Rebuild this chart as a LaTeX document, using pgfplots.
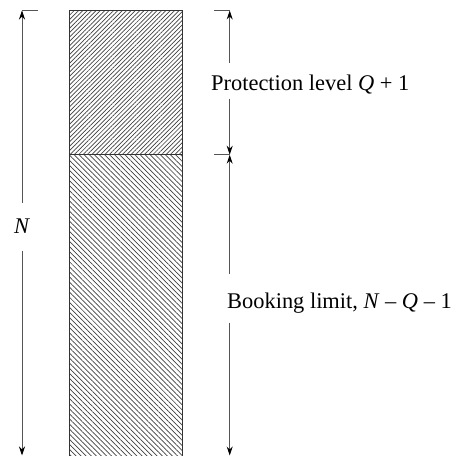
\documentclass[border=0pt]{standalone}
\usepackage{pgfplots}
\pgfplotsset{compat=1.18}
\usepackage{fontspec}
\setmainfont{Liberation Serif}
\usetikzlibrary{patterns.meta,arrows.meta}
\definecolor{arr}{HTML}{555555}
\begin{document}
\begin{tikzpicture}
\begin{axis}[
  scale only axis, width=452bp, height=456bp,
  xmin=0, xmax=452, ymin=0, ymax=456,
  axis lines=none, clip=false,
  ybar stacked, bar width=113,
]
\addplot[draw=black!80, line width=0.9pt, fill=white,
  postaction={pattern={Lines[angle=-45,distance=3.6pt,line width=0.7pt]}, pattern color=black!75}]
  coordinates {(125.5,301.3)};
\addplot[draw=black!80, line width=0.9pt, fill=white,
  postaction={pattern={Lines[angle=45,distance=3.1pt,line width=0.7pt]}, pattern color=black!75}]
  coordinates {(125.5,144.2)};
\coordinate (SW) at (axis cs:0,0);
\coordinate (NE) at (axis cs:452,456);
% left N arrow
\draw[arr, line width=1pt] (axis cs:22,445.5) -- (axis cs:38,445.5);
\draw[arr, line width=1pt, -{Stealth[length=9pt,width=6pt,black]}] (axis cs:22,253) -- (axis cs:22,445.5);
\draw[arr, line width=1pt, -{Stealth[length=9pt,width=6pt,black]}] (axis cs:22,205) -- (axis cs:22,0.5);
\node[anchor=base, inner sep=0, font=\fontsize{22.5}{26}\selectfont] at (axis cs:22,222) {\textit{N}};
% right arrows
\draw[arr, line width=1pt] (axis cs:214,445.5) -- (axis cs:230,445.5);
\draw[arr, line width=1pt] (axis cs:214,301.3) -- (axis cs:230,301.3);
\draw[arr, line width=1pt, -{Stealth[length=9pt,width=6pt,black]}] (axis cs:229.7,393.3) -- (axis cs:229.7,445.5);
\draw[arr, line width=1pt, -{Stealth[length=9pt,width=6pt,black]}] (axis cs:229.7,357) -- (axis cs:229.7,301.3);
\draw[arr, line width=1pt, -{Stealth[length=9pt,width=6pt,black]}] (axis cs:229.7,182) -- (axis cs:229.7,301.3);
\draw[arr, line width=1pt, -{Stealth[length=9pt,width=6pt,black]}] (axis cs:229.7,133) -- (axis cs:229.7,0.5);
\node[anchor=base west, inner sep=0, font=\fontsize{22.5}{26}\selectfont] at (axis cs:211,365.3) {Protection level \textit{Q} + 1};
\node[anchor=base west, inner sep=0, font=\fontsize{22.5}{26}\selectfont] at (axis cs:227,147) {Booking limit, \textit{N} – \textit{Q} – 1};
\end{axis}
\pgfresetboundingbox
\path (SW) rectangle (NE);
\end{tikzpicture}
\end{document}
